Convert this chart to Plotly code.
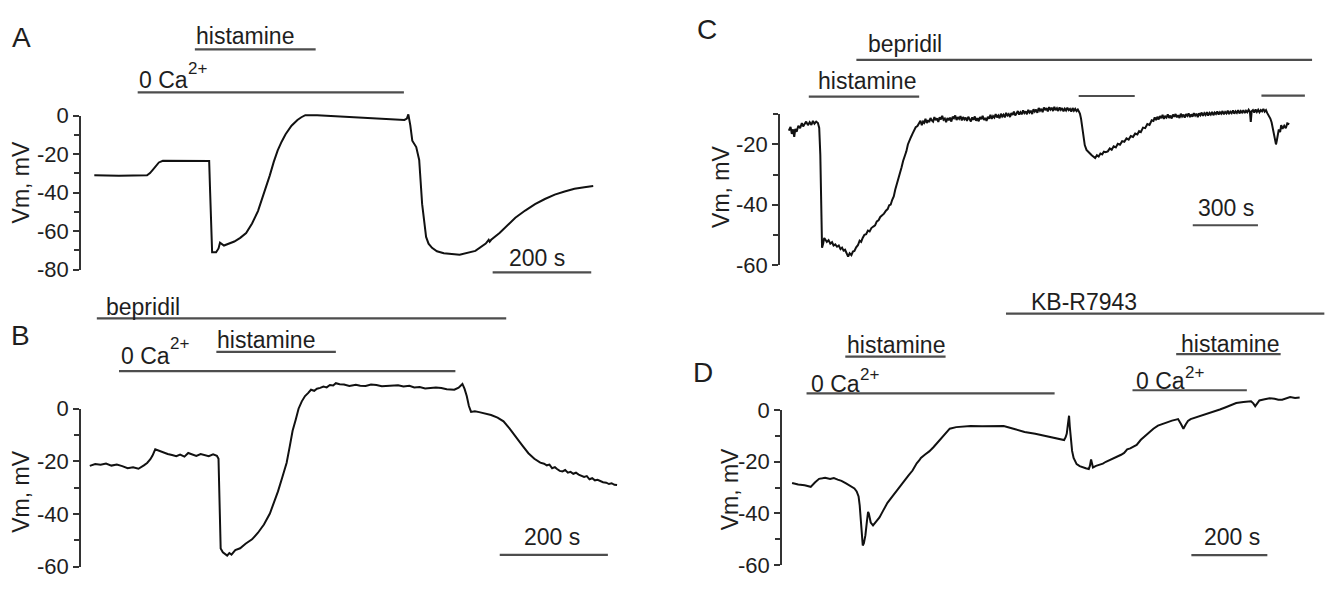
import plotly.graph_objects as go

W, H = 1331, 589

# ---------------- data (time in s, membrane potential in mV) ----------------
A_trace = [(0, -31), (50, -31.2), (107, -31), (113, -29.8), (119, -28), (125, -26), (131, -24.3),
           (139, -23.4), (180, -23.5), (233, -23.6), (235, -40), (237, -60), (239, -71), (247, -71),
           (252, -69), (255, -66), (259, -67), (263, -67.5), (284, -65.4), (296, -63.5), (308, -61),
           (320, -56), (332, -49.6), (344, -40.5), (356, -31), (364, -24), (372, -18), (380, -13.5),
           (388, -9.6), (400, -5.2), (412, -2.2), (420, -0.8), (428, 0.3), (452, 0.3), (533, -0.7),
           (629, -2.2), (634, -1.5), (637, 0.7), (641, -5), (645, -13), (653, -16.3), (659, -23),
           (665, -46), (669, -56), (673, -63), (678, -66.5), (685, -68.7), (695, -70.5), (709, -71.5),
           (741, -72.3), (773, -70.3), (794, -66.5), (800, -64.5), (802, -65.5), (805, -64.5),
           (822, -61), (838, -57), (854, -53), (874, -49.3), (894, -46), (914, -43.3), (934, -41),
           (954, -39.4), (974, -38), (994, -37.2), (1012, -36.6)]

B_trace = [(0, -21.7), (10, -21.0), (20, -21.3), (30, -20.8), (40, -21.6), (50, -21.2), (60, -21.8),
           (70, -22.6), (80, -22.2), (90, -22.8), (100, -21.5), (106, -20.6), (112, -19.2), (116, -17.8),
           (121, -15.4), (128, -16.0), (136, -16.4), (144, -17.2), (152, -17.6), (160, -18.0),
           (167, -17.4), (175, -18.2), (182, -16.8), (190, -17.4), (197, -17.9), (205, -17.2),
           (212, -17.6), (220, -18.0), (228, -17.3), (235, -17.9), (238, -19.0), (240, -35),
           (242, -53.1), (246, -54.5), (250, -55.2), (254, -55.8), (258, -54.8), (262, -55.4),
           (269, -53.7), (278, -53.0), (288, -51.3), (300, -49.6), (311, -47.1), (322, -44.0),
           (333, -39.8), (341, -35.5), (348, -31.4), (356, -26.0), (364, -20.5), (370, -14.0),
           (375, -8.4), (381, -4.0), (386, 0), (392, 2.8), (398, 4.8), (404, 6.0), (409, 7.2),
           (415, 6.8), (420, 7.6), (426, 7.9), (432, 8.4), (438, 8.1), (444, 9.0), (450, 8.8),
           (455, 9.7), (462, 9.3), (470, 9.2), (480, 8.6), (492, 9.1), (500, 8.7), (510, 8.6),
           (520, 9.2), (530, 9.0), (540, 8.5), (553, 8.7), (560, 8.9), (570, 8.9), (580, 8.4),
           (591, 8.7), (600, 8.1), (610, 8.2), (620, 7.7), (629, 7.8), (640, 8.1), (650, 7.9),
           (660, 7.4), (674, 7.2), (682, 8.0), (689, 9.4), (693, 7.5), (697, 4.8), (701, 1.0),
           (705, -1.2), (712, -1.0), (720, -1.3), (730, -1.8), (742, -2.4), (754, -3.4), (765, -4.8),
           (776, -7.5), (788, -10.9), (800, -14.0), (811, -16.9), (822, -19.0), (833, -20.5),
           (840, -20.9), (845, -21.5), (850, -21.2), (855, -22.6), (860, -22.2), (864, -22.9),
           (869, -23.6), (874, -23.8), (879, -23.3), (884, -24.3), (889, -24.0), (894, -24.7),
           (899, -24.3), (904, -25.0), (909, -25.4), (914, -25.9), (919, -25.6), (924, -26.8),
           (929, -26.4), (934, -27.2), (939, -27.0), (944, -27.6), (949, -27.9), (955, -28.1),
           (960, -28.6), (965, -28.3), (970, -28.9), (975, -29.0)]

C_trace = [(0, -15.4), (8, -14.2), (14, -16.5), (20, -15.0), (25, -17.5), (30, -14.8), (36, -15.8),
           (44, -13.8), (52, -14.6), (60, -12.9), (66, -14.0), (73, -13.3), (80, -12.4), (88, -13.6),
           (96, -12.6), (104, -13.5), (111, -12.2), (118, -13.1), (126, -12.4), (134, -12.9),
           (140, -14.5), (145, -23.4), (149, -40), (153, -54.3), (158, -53.0), (163, -51.1),
           (168, -51.6), (175, -52.4), (183, -51.8), (191, -53.0), (199, -52.5), (206, -53.6),
           (214, -53.2), (222, -54.0), (230, -53.6), (238, -54.8), (245, -54.3), (252, -55.3),
           (259, -55.0), (266, -56.2), (273, -57.3), (280, -56.2), (288, -56.8), (295, -55.6),
           (302, -55.4), (310, -54.2), (318, -53.5), (326, -52.0), (333, -52.4), (340, -51.1),
           (348, -50.0), (356, -49.8), (364, -48.6), (372, -48.9), (380, -47.8), (389, -47.3),
           (397, -46.9), (405, -45.6), (413, -45.2), (421, -44.1), (430, -43.6), (438, -43.0),
           (447, -42.0), (455, -41.5), (462, -40.2), (469, -40.0), (476, -38.4), (483, -37.3),
           (490, -35.0), (497, -33.4), (505, -31.2), (512, -29.8), (519, -27.6), (526, -25.5),
           (534, -23.8), (541, -22.3), (548, -20.0), (555, -18.4), (562, -17.6), (569, -16.5),
           (576, -15.2), (584, -14.3), (592, -13.9),
           (600, -13.0), (606, -12.1), (612, -13.6), (618, -12.4), (623, -12.8), (629, -11.5),
           (635, -12.9), (641, -11.9), (646, -12.6), (652, -11.2), (658, -12.0), (664, -12.4),
           (670, -10.9), (676, -11.9), (682, -11.3), (688, -12.5), (694, -11.0), (700, -11.7),
           (706, -10.5), (712, -11.8), (718, -11.4), (724, -12.6), (730, -11.2), (736, -12.0),
           (742, -11.1), (748, -12.4), (754, -10.8), (760, -11.3), (766, -10.4), (772, -11.9),
           (778, -10.9), (784, -11.5), (790, -10.6), (796, -12.0), (802, -10.9), (808, -11.7),
           (814, -11.1), (820, -12.2), (826, -10.8), (832, -11.6), (838, -12.4), (844, -11.0),
           (850, -11.8), (856, -10.7), (862, -12.1), (868, -11.3), (874, -12.3), (880, -10.9),
           (886, -11.6), (892, -10.5), (898, -11.9), (904, -11.2), (910, -12.2), (916, -10.8),
           (922, -11.4), (928, -10.2), (934, -11.5), (940, -10.6), (946, -11.1), (952, -9.9),
           (958, -11.0), (964, -10.4), (970, -11.3), (976, -9.8), (982, -10.7), (988, -10.1),
           (994, -11.0), (1000, -9.5), (1006, -10.4), (1012, -9.9), (1018, -10.9), (1024, -9.6),
           (1030, -10.2), (1036, -9.1), (1042, -10.4), (1048, -9.7), (1054, -8.9), (1060, -10.1),
           (1066, -9.3), (1072, -10.0), (1078, -8.7), (1084, -9.6), (1090, -9.0), (1096, -10.0),
           (1102, -8.5), (1108, -9.4), (1114, -8.8), (1120, -9.9), (1126, -8.3), (1132, -9.1),
           (1138, -8.4), (1144, -9.5), (1150, -7.9), (1156, -8.8), (1162, -8.2), (1168, -9.3),
           (1174, -7.7), (1180, -8.6), (1186, -7.9), (1192, -9.0), (1198, -7.6), (1204, -8.4),
           (1210, -7.8), (1216, -8.9), (1222, -7.5), (1228, -8.6), (1234, -8.0), (1240, -8.9),
           (1246, -7.7), (1252, -8.5), (1258, -7.9), (1264, -9.0), (1270, -8.1), (1276, -8.7),
           (1282, -7.8), (1288, -8.6), (1294, -8.2), (1300, -9.1), (1306, -7.9), (1312, -8.8),
           (1318, -8.2), (1324, -8.9), (1330, -8.4), (1336, -9.2),
           (1340, -9.8), (1345, -11.5), (1349, -13.8), (1355, -17.0), (1362, -20.2),
           (1370, -21.8), (1378, -22.6), (1386, -23.0), (1394, -23.6), (1402, -24.0), (1410, -24.5),
           (1418, -23.6), (1426, -24.0), (1434, -23.0), (1442, -23.3), (1450, -22.4), (1458, -22.6),
           (1468, -22.3), (1477, -21.3), (1486, -21.8), (1495, -20.6), (1505, -21.0), (1514, -19.8),
           (1524, -20.1), (1534, -18.9), (1544, -19.1), (1554, -18.0), (1564, -18.4), (1574, -17.2),
           (1584, -17.5), (1594, -16.4), (1604, -16.7), (1612, -15.6), (1620, -15.9), (1630, -14.4),
           (1640, -14.6), (1650, -13.2), (1660, -13.5), (1670, -12.0),
           (1678, -12.2), (1684, -11.0), (1690, -11.9), (1696, -10.8), (1702, -11.7), (1708, -10.6),
           (1714, -11.3), (1720, -10.2), (1726, -11.5), (1732, -10.7), (1738, -11.1), (1744, -10.0),
           (1750, -11.2), (1756, -10.4), (1762, -11.4), (1768, -10.1), (1774, -10.8), (1780, -9.9),
           (1786, -11.0), (1792, -10.3), (1798, -11.2), (1804, -9.8), (1810, -10.7), (1816, -10.1),
           (1822, -11.1), (1828, -9.9), (1834, -10.5), (1840, -9.7), (1846, -10.9), (1852, -10.0),
           (1858, -10.8), (1864, -9.6), (1870, -10.4), (1876, -9.8), (1882, -10.9), (1888, -9.7),
           (1894, -10.3), (1900, -9.4), (1906, -10.5), (1912, -9.6), (1918, -10.2), (1924, -9.3),
           (1930, -10.4), (1936, -9.5), (1942, -10.1), (1948, -9.2), (1954, -10.3), (1960, -9.4),
           (1966, -9.9), (1972, -9.0), (1978, -10.1), (1984, -9.3), (1990, -9.8), (1996, -8.9),
           (2002, -10.0), (2008, -9.2), (2014, -9.7), (2020, -8.8), (2026, -9.9), (2032, -9.1),
           (2038, -9.6), (2044, -8.7), (2050, -9.8), (2056, -9.0), (2062, -9.5), (2068, -8.6),
           (2074, -9.7), (2080, -8.9), (2086, -9.4), (2092, -8.6), (2098, -9.6), (2104, -8.8),
           (2110, -9.3), (2116, -8.5), (2122, -9.2), (2126, -12.5), (2130, -9.0), (2136, -8.6),
           (2142, -9.4), (2148, -8.4), (2154, -9.2), (2160, -8.5), (2166, -9.3), (2172, -8.6),
           (2178, -9.0), (2184, -8.2), (2190, -9.1), (2196, -8.6), (2202, -9.6), (2208, -10.3),
           (2216, -11.4), (2222, -12.7), (2228, -15.0), (2234, -18.0), (2238, -19.6), (2242, -20.0),
           (2246, -18.6), (2250, -16.5), (2255, -15.0), (2261, -15.9), (2266, -13.6), (2272, -14.8),
           (2280, -13.8), (2287, -14.6), (2294, -13.0), (2303, -13.3)]

D_trace = [(0, -28.2), (16, -28.8), (33, -29.1), (49, -29.7), (60, -28.0), (71, -26.6), (80, -26.4),
           (87, -26.2), (100, -26.7), (110, -26.3), (120, -26.9), (130, -27.4), (142, -28.4),
           (153, -29.2), (164, -30.3), (170, -31.5), (175, -33.4), (178, -37), (180, -42.1),
           (183, -48), (186, -52.4), (189, -51.5), (193, -48.4), (197, -43.0), (200, -39.4),
           (202, -40.0), (207, -43.5), (213, -44.6), (220, -43.2), (230, -41.5), (240, -38.8),
           (251, -35.9), (262, -33.8), (273, -31.6), (284, -29.7), (295, -27.3), (306, -25.4),
           (317, -23.4), (328, -20.6), (335, -19.4), (339, -18.5), (350, -17.2), (361, -16.0),
           (372, -14.4), (383, -12.6), (393, -11.0), (404, -9.2), (415, -7.2), (432, -6.6),
           (450, -6.4), (470, -6.2), (500, -6.3), (530, -6.1), (557, -6.2), (585, -7.3), (612, -8.5),
           (640, -9.2), (667, -10.1), (690, -10.8), (716, -11.6), (720, -10.5), (723, -9.1),
           (726, -5.5), (729, -2.2), (731, -6.5), (734, -12.2), (737, -15.8), (741, -18.5),
           (745, -20.0), (749, -20.9), (757, -21.7), (765, -22.2), (773, -22.5), (781, -22.8),
           (784, -21.5), (787, -19.1), (790, -21.0), (792, -22.2), (800, -21.6), (809, -21.2),
           (818, -20.7), (826, -20.0), (834, -19.5), (842, -19.1), (850, -18.4), (858, -17.8),
           (866, -17.3), (874, -16.6), (882, -15.2), (890, -14.8), (898, -14.3), (907, -13.5),
           (918, -11.5), (929, -10.0), (940, -8.8), (951, -7.2), (963, -6.0), (975, -5.3),
           (988, -4.8), (1000, -4.1), (1008, -3.8), (1016, -3.5), (1024, -5.5), (1030, -7.2),
           (1036, -5.6), (1042, -4.2), (1049, -3.5), (1060, -3.0), (1071, -2.4), (1082, -2.0),
           (1093, -1.6), (1104, -1.0), (1115, -0.4), (1126, 0.2), (1140, 1.0), (1155, 1.9),
           (1169, 2.7), (1188, 3.1), (1208, 3.4), (1214, 2.6), (1219, 1.5), (1224, 2.5), (1230, 3.7),
           (1244, 4.2), (1257, 4.6), (1270, 4.4), (1280, 4.0), (1290, 4.0), (1300, 4.6), (1311, 5.0),
           (1324, 4.7), (1336, 4.9)]

# application bars: [start s, end s]
A_histamine = [204, 449]
A_zero_ca = [88, 628]
A_scalebar = [808, 1008]

B_bepridil = [13, 770]
B_zero_ca = [54, 676]
B_histamine = [234, 455]
B_scalebar = [758, 958]

C_bepridil = [311, 2408]
C_histamine = [92, 600]
C_histamine2 = [1334, 1592]
C_histamine3 = [2175, 2375]
C_scalebar = [1859, 2159]

D_kbr = [563, 1401]
D_histamine = [140, 404]
D_zero_ca = [38, 691]
D_histamine2 = [1011, 1286]
D_zero_ca2 = [896, 1197]
D_scalebar = [1051, 1251]

# tick labels
A_major = [-80, -60, -40, -20, 0]
A_minor = [-70, -50, -30, -10]
B_major = [-60, -40, -20, 0]
B_minor = [-50, -30, -10]
C_major = [-60, -40, -20]
C_minor = [-50, -30, -10]
D_major = [-60, -40, -20, 0]
D_minor = [-50, -30, -10]

# ---------------- layout geometry (pixels) ----------------
FONT = "Arial, Liberation Sans, Helvetica, sans-serif"
TXT = "#1e1e1e"
BAR = "#4d4d4d"
AX = "#333333"

panels = [
    dict(trace=A_trace, ax=81.0, t0=94.3, pxs=0.493, v0=108.3, pxmv=2.009, top=0, bot=290, right=650,
         major=A_major, minor=A_minor, span=(-80, 0)),
    dict(trace=B_trace, ax=81.0, t0=89.8, pxs=0.5408, v0=414.3, pxmv=2.75, top=290, bot=589, right=650,
         major=B_major, minor=B_minor, span=(-60, 0)),
    dict(trace=C_trace, ax=780.0, t0=788.8, pxs=0.2173, v0=75.45, pxmv=3.1425, top=0, bot=285, right=1331,
         major=C_major, minor=C_minor, span=(-60, -10)),
    dict(trace=D_trace, ax=782.0, t0=792.1, pxs=0.3799, v0=415.7, pxmv=2.7, top=285, bot=589, right=1331,
         major=D_major, minor=D_minor, span=(-60, 0)),
]

# bars: (panel index, interval, pixel y)
bars = [
    (0, A_histamine, 39), (0, A_zero_ca, 84), (0, A_scalebar, 272),
    (1, B_bepridil, 320), (1, B_zero_ca, 375), (1, B_histamine, 355), (1, B_scalebar, 567),
    (2, C_bepridil, 50), (2, C_histamine, 88.3), (2, C_histamine2, 87.7),
    (2, C_histamine3, 87.3), (2, C_scalebar, 222.7),
    (3, D_kbr, 315), (3, D_histamine, 360), (3, D_zero_ca, 398.3),
    (3, D_histamine2, 357.3), (3, D_zero_ca2, 395), (3, D_scalebar, 567.3),
]

LBL = 23
# texts: (text, px, py, xanchor, yanchor, size, angle)
texts = [
    ("A", 10, 27, "left", "middle", 28, 0),
    ("histamine", 194, 25, "left", "middle", LBL, 0),
    ("200 s", 537, 257, "center", "middle", LBL, 0),
    ("Vm, mV", 20.5, 178.5, "center", "middle", LBL, -90),
    ("B", 9, 338, "left", "middle", 28, 0),
    ("bepridil", 104, 308, "left", "middle", LBL, 0),
    ("histamine", 215, 343, "left", "middle", LBL, 0),
    ("200 s", 552, 548, "center", "middle", LBL, 0),
    ("Vm, mV", 21, 501, "center", "middle", LBL, -90),
    ("C", 695, 18, "left", "middle", 28, 0),
    ("bepridil", 866, 33, "left", "middle", LBL, 0),
    ("histamine", 816, 72, "left", "middle", LBL, 0),
    ("300 s", 1226, 205, "center", "middle", LBL, 0),
    ("Vm, mV", 721.7, 183, "center", "middle", LBL, -90),
    ("D", 691, 377, "left", "middle", 28, 0),
    ("KB-R7943", 1084, 303, "center", "middle", LBL, 0),
    ("histamine", 896, 348, "center", "middle", LBL, 0),
    ("histamine", 1230, 347, "center", "middle", LBL, 0),
    ("200 s", 1232, 548, "center", "middle", LBL, 0),
    ("Vm, mV", 730, 498.5, "center", "middle", LBL, -90),
]
# "0 Ca2+" labels: (left px, centre py of "0 Ca", centre py of raised "2+")
ca_labels = [(136.5, 70.5, 59), (118.5, 359.5, 346), (808.5, 389, 379), (1133.5, 385.5, 376)]


def t_at(p, px):
    return (px - p["t0"]) / p["pxs"]


def v_at(p, py):
    return (p["v0"] - py) / p["pxmv"]


fig = go.Figure()
layout = dict(width=W, height=H, margin=dict(l=0, r=0, t=0, b=0), autosize=False,
              paper_bgcolor="white", plot_bgcolor="rgba(0,0,0,0)", showlegend=False,
              font=dict(family=FONT, color=TXT))
shapes = []
annotations = []

for i, p in enumerate(panels, start=1):
    xs = "" if i == 1 else str(i)
    xid, yid, yt = "x" + xs, "y" + xs, "y" + str(i + 4)
    tt = [a for a, b in p["trace"]]
    vv = [b for a, b in p["trace"]]
    fig.add_trace(go.Scatter(x=tt, y=vv, mode="lines", xaxis=xid, yaxis=yid,
                             line=dict(color="#111111", width=2), hoverinfo="skip"))
    fig.add_trace(go.Scatter(x=[], y=[], mode="lines", xaxis=xid, yaxis=yt, hoverinfo="skip"))
    layout["xaxis" + xs] = dict(domain=[p["ax"] / W, p["right"] / W],
                                range=[t_at(p, p["ax"]), t_at(p, p["right"])],
                                visible=False, anchor=yid, fixedrange=True)
    layout["yaxis" + xs] = dict(domain=[1 - p["bot"] / H, 1 - p["top"] / H],
                                range=[v_at(p, p["bot"]), v_at(p, p["top"])],
                                visible=False, anchor=xid, fixedrange=True)
    lo, hi = p["span"][0] - 0.05, p["span"][1] + 0.05
    py_lo = p["v0"] - lo * p["pxmv"]
    py_hi = p["v0"] - hi * p["pxmv"]
    layout["yaxis" + str(i + 4)] = dict(
        domain=[1 - py_lo / H, 1 - py_hi / H], range=[lo, hi], anchor=xid,
        showline=True, linecolor=AX, linewidth=1.6,
        tickmode="array", tickvals=p["major"], ticktext=[str(v) for v in p["major"]],
        ticks="outside", ticklen=6, tickwidth=1.6, tickcolor=AX,
        minor=dict(tickmode="array", tickvals=p["minor"], ticks="outside", ticklen=5,
                   tickwidth=1.6, tickcolor=AX, showgrid=False),
        showgrid=False, zeroline=False, fixedrange=True,
        tickfont=dict(family=FONT, size=22, color=TXT))

for k, interval, py in bars:
    p = panels[k]
    xs = "" if k == 0 else str(k + 1)
    yv = v_at(p, py)
    shapes.append(dict(type="line", xref="x" + xs, yref="y" + xs, x0=interval[0], x1=interval[1],
                       y0=yv, y1=yv, line=dict(color=BAR, width=2.2), layer="above"))


def add_text(text, px, py, xa, ya, size, ang=0):
    annotations.append(dict(text=text, x=px / W, y=1 - py / H, xref="paper", yref="paper",
                            xanchor=xa, yanchor=ya, showarrow=False, textangle=ang,
                            font=dict(family=FONT, size=size, color=TXT)))


for t in texts:
    add_text(*t)
for px, py_main, py_sup in ca_labels:
    add_text("0 Ca", px, py_main, "left", "middle", LBL)
    add_text("2+", px + 2.112 * LBL + 0.5, py_sup, "left", "middle", 17)

layout["shapes"] = shapes
layout["annotations"] = annotations
fig.update_layout(**layout)
fig.write_html("out.html")
